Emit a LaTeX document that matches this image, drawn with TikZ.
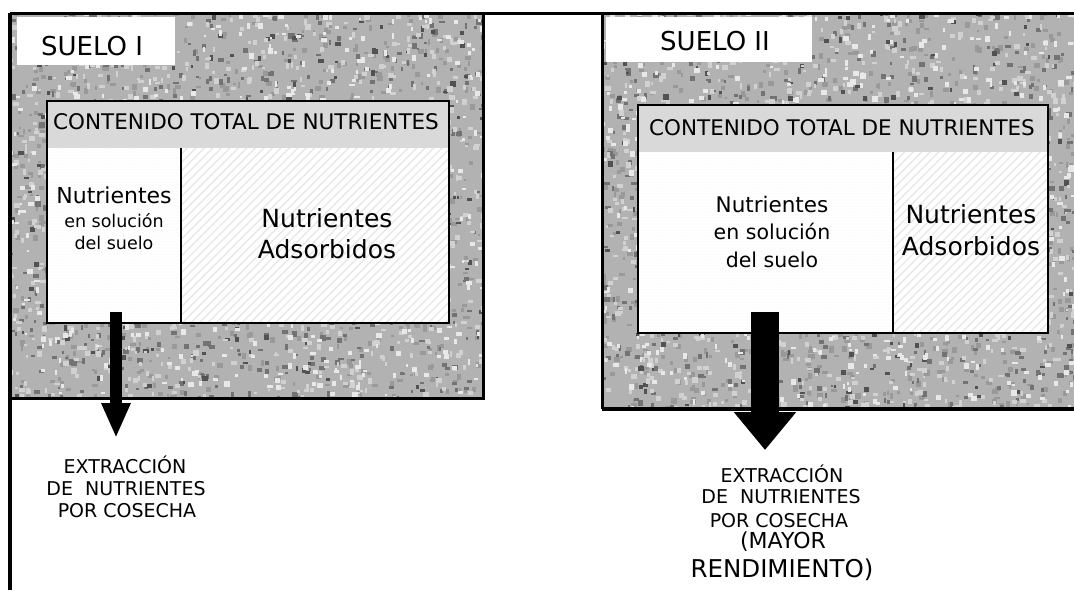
\documentclass[tikz,border=0pt]{standalone}
\usepackage{fontspec}
\setmainfont{DejaVu Sans}
\usetikzlibrary{patterns.meta,arrows.meta}
\newcommand{\myfs}[1]{\fontsize{#1pt}{#1pt}\selectfont}
\newcommand{\speck}[6]{% x0 y0 w h colour count
  \foreach \i in {1,...,#6}{\fill[#5] ({#1+#3*rnd},{#2+#4*rnd}) rectangle ++({2+4*rnd},{2+4*rnd});}}
\newcommand{\granite}[4]{%
  \fill[black!30] (#1,#2) rectangle ++(#3,#4);
  \speck{#1}{#2}{#3}{#4}{black!40}{800}
  \speck{#1}{#2}{#3}{#4}{black!55}{550}
  \speck{#1}{#2}{#3}{#4}{black!68}{200}
  \speck{#1}{#2}{#3}{#4}{black!18}{800}
  \speck{#1}{#2}{#3}{#4}{black!9}{550}
}
\begin{document}
\begin{tikzpicture}[x=1pt,y=-1pt,
  txt/.style={inner sep=0pt, anchor=base},
  frame/.style={draw=black, line width=3pt},
  cellline/.style={draw=black, line width=1.5pt},
  header/.style={fill=black!15},
  solcell/.style={pattern={Dots[distance=3pt, radius=0.35pt]}, pattern color=black!12},
  adscell/.style={pattern={Lines[angle=45, distance=6pt, line width=1.4pt]}, pattern color=black!9},
  labelbox/.style={fill=white},
  bigarrow/.style={line cap=butt}
]
\useasboundingbox (0,0) rectangle (1074,590);
\fill[white] (0,0) rectangle (1074,590);
\pgfmathsetseed{4242}
% ---------------- soil textures
\begin{scope}
  \clip (10,13) rectangle (483,398);
  \granite{5}{8}{478}{390}
\end{scope}
\begin{scope}
  \clip (602,13) rectangle (1074,409);
  \granite{597}{8}{477}{401}
\end{scope}
% ---------------- frames
\draw[frame] (10,13) -- (1074,13);
\draw[frame, line width=3.5pt] (10,13) -- (10,590);
\draw[frame] (10,398) -- (483,398) -- (483,13);
\draw[frame] (602,13) -- (602,409);
\draw[frame, line width=4pt] (602,409) -- (1074,409);
% ---------------- label boxes
\fill[labelbox] (17,17) rectangle (175,65);
\fill[labelbox] (606,17) rectangle (812,62);
\node[txt, font=\myfs{26}] (suelo1) at (92,55) {SUELO I};
\node[txt, font=\myfs{26}] (suelo2) at (715,50) {SUELO II};
% ---------------- inner box left
\fill[white] (47,148) rectangle (449,323);
\fill[solcell] (47,148) rectangle (181,323);
\fill[adscell] (181,148) rectangle (449,323);
\fill[header] (47,101) rectangle (449,148);
\draw[cellline] (47,101) rectangle (449,323);
\draw[cellline] (181,148) -- (181,323);
% ---------------- inner box right
\fill[white] (638,152) rectangle (1048,333);
\fill[solcell] (638,152) rectangle (893,333);
\fill[adscell] (893,152) rectangle (1048,333);
\fill[header] (638,105) rectangle (1048,152);
\draw[cellline] (638,105) rectangle (1048,333);
\draw[cellline] (893,152) -- (893,333);
% ---------------- texts inside
\node[txt, font=\myfs{21.5}] (tot1) at (246,129) {CONTENIDO TOTAL DE NUTRIENTES};
\node[txt, font=\myfs{21.5}] (tot2) at (842,135) {CONTENIDO TOTAL DE NUTRIENTES};
\node[txt, font=\myfs{22}] (solA1) at (114,203) {Nutrientes};
\node[txt, font=\myfs{17.5}] (solB1) at (114,227) {en solución};
\node[txt, font=\myfs{17.5}] (solC1) at (114,249) {del suelo};
\node[txt, font=\myfs{25}] (adsA1) at (327,227) {Nutrientes};
\node[txt, font=\myfs{25}] (adsB1) at (327,258) {Adsorbidos};
\node[txt, font=\myfs{21.5}] (solA2) at (772,212) {Nutrientes};
\node[txt, font=\myfs{20.5}] (solB2) at (772,239) {en solución};
\node[txt, font=\myfs{20.5}] (solC2) at (772,267) {del suelo};
\node[txt, font=\myfs{25}] (adsA2) at (971,223) {Nutrientes};
\node[txt, font=\myfs{25}] (adsB2) at (971,255) {Adsorbidos};
% ---------------- arrows
\coordinate (aLs) at (116,312);
\coordinate (aLe) at (116,438);
\coordinate (aRs) at (765,312);
\coordinate (aRe) at (765,450);
\draw[bigarrow, line width=12pt, -{Triangle[width=27pt,length=35pt]}] (aLs) -- (aLe);
\draw[bigarrow, line width=28pt, -{Triangle[width=60pt,length=38pt]}] (aRs) -- (aRe);
% ---------------- bottom texts
\node[txt, font=\myfs{19}] (extL1) at (125,473) {EXTRACCIÓN};
\node[txt, font=\myfs{19}] (extL2) at (126,495) {DE\ \ NUTRIENTES};
\node[txt, font=\myfs{19}] (extL3) at (127,517) {POR COSECHA};
\node[txt, font=\myfs{19}] (extR1) at (782,482) {EXTRACCIÓN};
\node[txt, font=\myfs{19}] (extR2) at (781,503) {DE\ \ NUTRIENTES};
\node[txt, font=\myfs{19}] (extR3) at (779,527) {POR COSECHA};
\node[txt, font=\myfs{22}] (extR4) at (783,548) {(MAYOR};
\node[txt, font=\myfs{24.5}] (extR5) at (782,577) {RENDIMIENTO)};
\end{tikzpicture}
\end{document}
